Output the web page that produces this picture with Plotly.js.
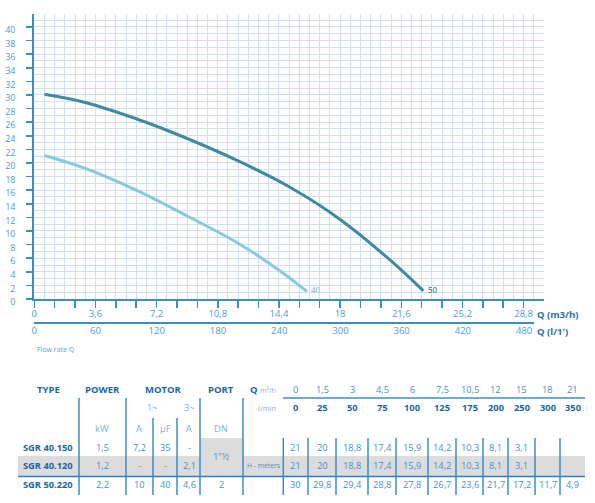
<!DOCTYPE html>
<html>
<head>
<meta charset="utf-8">
<script src="https://cdn.plot.ly/plotly-3.0.1.min.js"></script>
<style>html,body{margin:0;padding:0;background:#fff;}#chart{width:595px;height:503px;}</style>
</head>
<body>
<div id="chart"></div>
<script>
// ---------- data ----------
const curve40Q = [0.6, 3, 6, 9, 12, 14.65, 16.05];
const curve40H = [21.1, 19.2, 16.0, 12.2, 8.2, 3.8, 1.1];
const curve50Q = [0.6, 3, 6, 9, 12, 15, 18, 21, 22.9];
const curve50H = [30.1, 28.9, 26.5, 23.6, 20.3, 16.5, 11.7, 5.6, 1.2];
const curveNames = ['40', '50'];

const xTickVals = [0, 1.2, 2.4, 3.6, 4.8, 6, 7.2, 8.4, 9.6, 10.8, 12, 13.2, 14.4, 15.6, 16.8, 18, 19.2, 20.4, 21.6, 22.8, 24, 25.2, 26.4, 27.6, 28.8];
const xTickText = ['0', '', '', '3,6', '', '', '7,2', '', '', '10,8', '', '', '14,4', '', '', '18', '', '', '21,6', '', '', '25,2', '', '', '28,8'];
const lminTickVals = [0, 60, 120, 180, 240, 300, 360, 420, 480];
const lminTickText = ['0', '60', '120', '180', '240', '300', '360', '420', '480'];
const yTickVals = [0, 2, 4, 6, 8, 10, 12, 14, 16, 18, 20, 22, 24, 26, 28, 30, 32, 34, 36, 38, 40];

// table
const headerLabels = ['TYPE', 'POWER', 'MOTOR', 'PORT'];
const phaseLabels = ['1~', '3~'];
const unitLabels = ['kW', 'A', 'µF', 'A', 'DN'];
const tableQm3h = ['0', '1,5', '3', '4,5', '6', '7,5', '10,5', '12', '15', '18', '21'];
const tableQlmin = ['0', '25', '50', '75', '100', '125', '175', '200', '250', '300', '350'];
const models = ['SGR 40.150', 'SGR 40.120', 'SGR 50.220'];
const powerKw = ['1,5', '1,2', '2,2'];
const amps1ph = ['7,2', '-', '10'];
const cap1ph = ['35', '-', '40'];
const amps3ph = ['-', '2,1', '4,6'];
const portDn = ['1"½', '1"½', '2'];
const head40150 = ['21', '20', '18,8', '17,4', '15,9', '14,2', '10,3', '8,1', '3,1', '', ''];
const head40120 = ['21', '20', '18,8', '17,4', '15,9', '14,2', '10,3', '8,1', '3,1', '', ''];
const head50220 = ['30', '29,8', '29,4', '28,8', '27,8', '26,7', '23,6', '21,7', '17,2', '11,7', '4,9'];
const headRows = [head40150, head40120, head50220];

// ---------- layout helpers (pixel -> paper) ----------
const W = 595, H = 503;
const px = x => x / W;
const py = y => 1 - y / H;

const BLUE_LINE = '#3b8dc7';
const GRID = '#d3dfee';
const TICK_TXT = '#4d9cd4';
const DARK = '#1b66a3';
const VAL = '#3f93cf';
const SUB = '#78b3dd';
const SHADE = '#dcdcdd';
const FONT = 'Open Sans, sans-serif';

const annotations = [];
const shapes = [];
function txt(text, x, y, o) {
  o = o || {};
  annotations.push({
    text: text, xref: 'paper', yref: 'paper', x: px(x), y: py(y),
    xanchor: o.xanchor || 'center', yanchor: 'middle', showarrow: false,
    font: {family: FONT, size: o.size || 9.3, color: o.color || VAL, weight: o.bold ? 700 : 400}
  });
}
function vline(x, y0, y1, c, w) {
  shapes.push({type: 'line', xref: 'paper', yref: 'paper', x0: px(x), x1: px(x), y0: py(y0), y1: py(y1),
    line: {color: c || BLUE_LINE, width: w || 1.5}});
}
function hline(y, x0, x1, c, w) {
  shapes.push({type: 'line', xref: 'paper', yref: 'paper', x0: px(x0), x1: px(x1), y0: py(y), y1: py(y),
    line: {color: c || BLUE_LINE, width: w || 1.5}});
}
function rect(x0, y0, x1, y1, c) {
  shapes.push({type: 'rect', xref: 'paper', yref: 'paper', x0: px(x0), x1: px(x1), y0: py(y0), y1: py(y1),
    fillcolor: c, line: {width: 0}, layer: 'below'});
}

// ---------- chart labels ----------
annotations.push({text: curveNames[0], x: 16.6, y: 1.4, xref: 'x', yref: 'y', showarrow: false,
  font: {family: FONT, size: 8, color: '#8ccfe3', weight: 600}});
annotations.push({text: curveNames[1], x: 23.45, y: 1.4, xref: 'x', yref: 'y', showarrow: false,
  font: {family: FONT, size: 8, color: '#4f8b9d', weight: 600}});
txt('Q (m3/h)', 535, 314, {xanchor: 'left', bold: true, size: 9.5, color: '#2a6fab'});
txt("Q (l/1')", 535, 331, {xanchor: 'left', bold: true, size: 9.5, color: '#2a6fab'});
txt('Flow rate Q', 35, 349.5, {xanchor: 'left', size: 7, color: '#5d9fd0'});

// ---------- table ----------
const colType = 48, colPower = 102, colA1 = 139, colUf = 165, colA3 = 189, colPort = 221;
const qCols = [295.5, 322, 352, 382, 412, 442, 469.5, 495.5, 521.5, 547.5, 572.5];
const qSeps = [308, 336, 368, 396, 428, 456, 483, 508, 535, 560];
const rowY = [447, 465.5, 484];
const yHead = 389, ySub1 = 407.5, ySub2 = 428;

rect(18, 456, 585, 476, SHADE);
rect(200, 438, 243, 476, SHADE);

[colType, colPower, 163, colPort].forEach((x, i) => txt(headerLabels[i], x, yHead, {bold: true, size: 9.5, color: DARK}));
annotations.push({text: '<b>Q</b> <span style="font-size:7px;color:' + SUB + '">m³/h</span>', xref: 'paper', yref: 'paper',
  x: px(278), y: py(yHead), xanchor: 'right', yanchor: 'middle', showarrow: false,
  font: {family: FONT, size: 9.5, color: DARK}});
txt(phaseLabels[0], 152, ySub1, {color: SUB});
txt(phaseLabels[1], colA3, ySub1, {color: SUB});
txt('l/min', 278, ySub1, {xanchor: 'right', size: 7.5, color: SUB});
[colPower, colA1, colUf, colA3, colPort].forEach((x, i) => txt(unitLabels[i], x, ySub2, {color: SUB}));

qCols.forEach((x, i) => {
  txt(tableQm3h[i], x, yHead, {color: VAL});
  txt(tableQlmin[i], x, ySub1, {bold: true, color: DARK});
});

models.forEach((m, r) => {
  const y = rowY[r];
  txt(m, colType, y, {bold: true, color: DARK});
  txt(powerKw[r], colPower, y);
  txt(amps1ph[r], colA1, y);
  txt(cap1ph[r], colUf, y);
  txt(amps3ph[r], colA3, y);
  headRows[r].forEach((v, i) => { if (v !== '') txt(v, qCols[i], y); });
});
txt(portDn[0], colPort, 456.5);
txt(portDn[2], colPort, rowY[2]);
txt('H - meters', 263.5, 465.5, {size: 6.8, color: VAL});

// table lines
hline(398, 283, 585);
hline(476.5, 18, 585, '#2f7fbf', 1.6);
vline(79, 398, 495);
vline(126, 398, 495);
vline(153, 418, 495);
vline(177, 418, 495);
vline(200, 398, 495);
vline(243, 398, 495);
vline(283.3, 438, 495);
qSeps.forEach(x => vline(x, 438, 495));

// ---------- traces ----------
const traces = [
  {x: curve40Q, y: curve40H, type: 'scatter', mode: 'lines', line: {color: '#85cadf', width: 3, shape: 'spline', smoothing: 1}, hoverinfo: 'skip'},
  {x: curve50Q, y: curve50H, type: 'scatter', mode: 'lines', line: {color: '#3d8aa2', width: 3, shape: 'spline', smoothing: 1}, hoverinfo: 'skip'},
  {x: [], y: [], xaxis: 'x2', yaxis: 'y2', type: 'scatter', mode: 'lines', hoverinfo: 'skip'}
];

const layout = {
  width: W, height: H,
  margin: {l: 0, r: 0, t: 0, b: 0, pad: 0},
  paper_bgcolor: '#ffffff', plot_bgcolor: 'rgba(0,0,0,0)',
  showlegend: false,
  font: {family: FONT},
  xaxis: {
    domain: [px(34.3), px(544)], range: [0, 30], anchor: 'y',
    tickmode: 'array', tickvals: xTickVals, ticktext: xTickText,
    ticks: 'outside', ticklen: 7, tickwidth: 1.5, tickcolor: BLUE_LINE,
    showline: true, linecolor: BLUE_LINE, linewidth: 2,
    showgrid: true, gridcolor: GRID, gridwidth: 1, zeroline: false,
    minor: {tickmode: 'linear', tick0: 0, dtick: 0.6, showgrid: true, gridcolor: GRID, gridwidth: 1, ticks: ''},
    tickfont: {family: FONT, size: 9.5, color: TICK_TXT}, ticklabelstandoff: -2,
    fixedrange: true
  },
  yaxis: {
    domain: [py(299), py(13.5)], range: [0, 41.98], anchor: 'x',
    tickmode: 'array', tickvals: yTickVals,
    ticks: 'outside', ticklen: 6, tickwidth: 1.5, tickcolor: BLUE_LINE,
    showline: true, linecolor: BLUE_LINE, linewidth: 2,
    showgrid: true, gridcolor: GRID, gridwidth: 1, zeroline: false,
    minor: {tickmode: 'linear', tick0: 0, dtick: 1, showgrid: true, gridcolor: GRID, gridwidth: 1, ticks: ''},
    tickfont: {family: FONT, size: 9, color: TICK_TXT}, ticklabelstandoff: 9, ticklabelshift: 3,
    fixedrange: true
  },
  xaxis2: {
    domain: [px(34.3), px(534.3)], range: [0, 490], anchor: 'y2', side: 'bottom',
    tickmode: 'array', tickvals: lminTickVals, ticktext: lminTickText,
    ticks: '', showline: true, linecolor: BLUE_LINE, linewidth: 1.5,
    showgrid: false, zeroline: false,
    tickfont: {family: FONT, size: 9.5, color: TICK_TXT}, ticklabelstandoff: -1,
    fixedrange: true
  },
  yaxis2: {
    domain: [py(322.3), py(321.3)], range: [0, 1], anchor: 'x2', visible: false,
    showgrid: false, zeroline: false, fixedrange: true
  },
  annotations: annotations,
  shapes: shapes
};

Plotly.newPlot('chart', traces, layout, {displayModeBar: false, staticPlot: true});
</script>
</body>
</html>
